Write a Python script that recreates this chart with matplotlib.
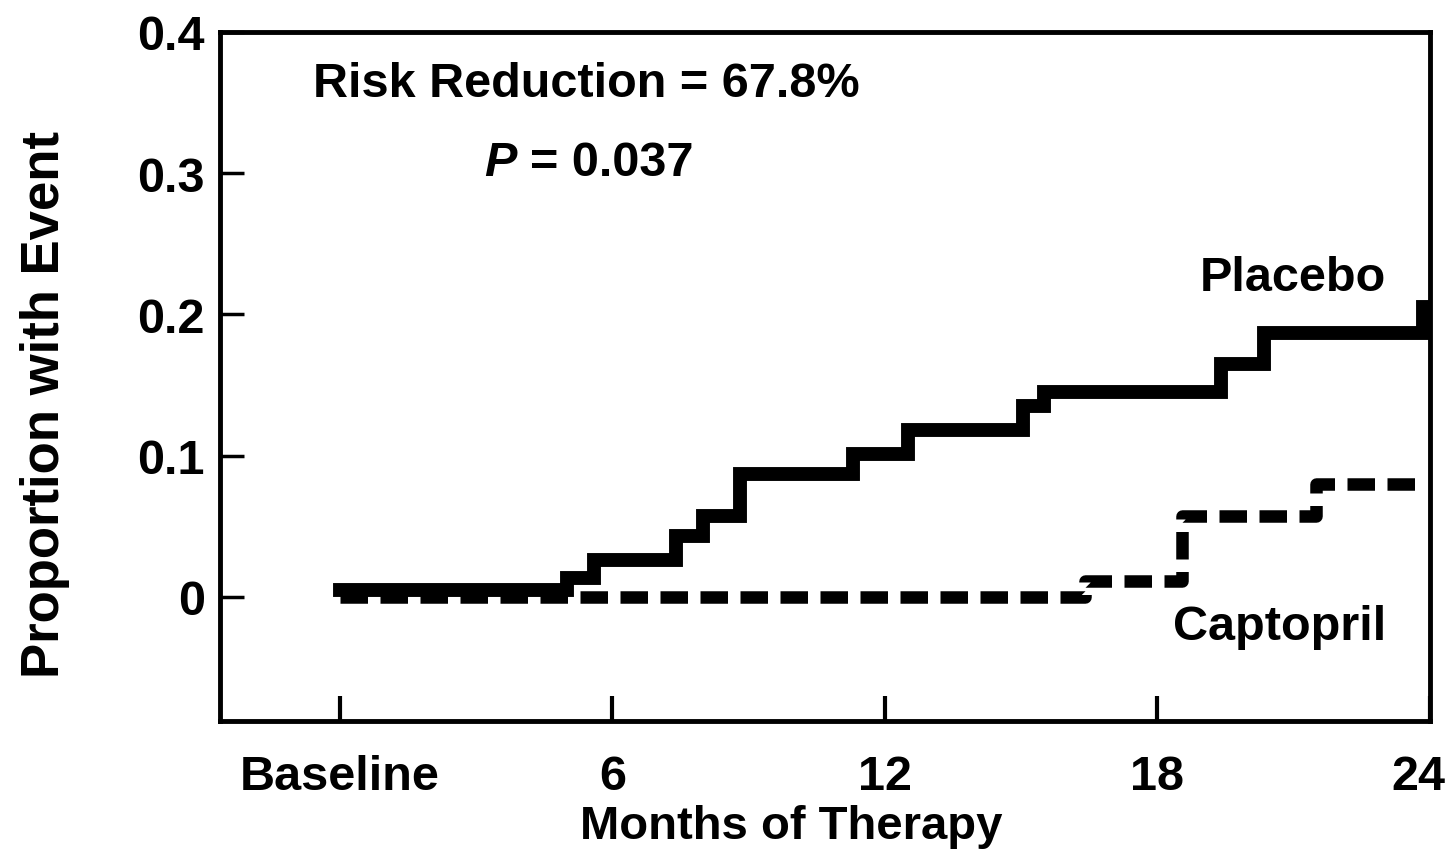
import matplotlib
matplotlib.use('Agg')
import matplotlib.pyplot as plt
from matplotlib.transforms import ScaledTranslation

plt.rcParams['font.family'] = ['Liberation Sans', 'DejaVu Sans']
plt.rcParams['font.weight'] = 'bold'

# Kaplan-Meier style cumulative event curves (step changes at these months)
placebo_months = [0, 5.0, 5.6, 7.4, 8.0, 8.8, 11.3, 12.5, 15.05, 15.5, 19.4, 20.35, 23.85, 24.0]
placebo_prop = [0.005, 0.013, 0.026, 0.043, 0.057, 0.087, 0.101, 0.118, 0.135, 0.145, 0.165, 0.187, 0.205, 0.205]

captopril_months = [0, 16.4, 18.55, 21.5, 23.85]
captopril_prop = [0.0, 0.011, 0.057, 0.080, 0.080]

x_ticks = [0, 6, 12, 18, 24]
x_labels = ['Baseline', '6', '12', '18', '24']
y_ticks = [0, 0.1, 0.2, 0.3, 0.4]
y_labels = ['0', '0.1', '0.2', '0.3', '0.4']

fig = plt.figure(figsize=(14.5, 8.54), dpi=100)
ax = fig.add_axes([220 / 1450, 132 / 854, 1210 / 1450, 689 / 854])

ax.step(captopril_months, captopril_prop, where='post', color='black',
        lw=9, dashes=(2.2, 1.0), dash_capstyle='butt', zorder=2)
ax.step(placebo_months, placebo_prop, where='post', color='black',
        lw=10, solid_joinstyle='miter', zorder=3)

ax.set_xlim(-2.64, 24)
ax.set_ylim(-0.088, 0.4)

ax.set_xticks(x_ticks)
ax.set_xticklabels(x_labels)
ax.set_yticks(y_ticks)
ax.set_yticklabels(y_labels)
ax.tick_params(axis='x', direction='in', length=18, width=3, pad=24, labelsize=35)
ax.tick_params(axis='y', direction='in', length=17, width=2.5, pad=11, labelsize=35)
for lab in ax.get_xticklabels() + ax.get_yticklabels():
    lab.set_fontweight('bold')

# pull the "24" label in a little so it stays on the canvas
last = ax.get_xticklabels()[-1]
last.set_transform(last.get_transform() + ScaledTranslation(-12 / 100, 0, fig.dpi_scale_trans))

for sp in ax.spines.values():
    sp.set_linewidth(3.5)

ax.set_xlabel('Months of Therapy', fontsize=34, fontweight='bold')
ax.xaxis.set_label_coords(0.472, -0.12)
ax.set_ylabel('Proportion with Event', fontsize=38, fontweight='bold')
ax.yaxis.set_label_coords(-0.124, 0.4615)

ax.text(-0.595, 0.355, 'Risk Reduction = 67.8%', fontsize=35, fontweight='bold',
        ha='left', va='baseline')
ax.text(3.17, 0.2986, 'P', fontsize=35, fontweight='bold', style='italic',
        ha='left', va='baseline')
ax.text(4.19, 0.2986, '= 0.037', fontsize=35, fontweight='bold',
        ha='left', va='baseline')

ax.text(20.97, 0.217, 'Placebo', fontsize=35, fontweight='bold',
        ha='center', va='baseline')
ax.text(20.68, -0.030, 'Captopril', fontsize=35, fontweight='bold',
        ha='center', va='baseline')

fig.savefig('out.png', dpi=100)
